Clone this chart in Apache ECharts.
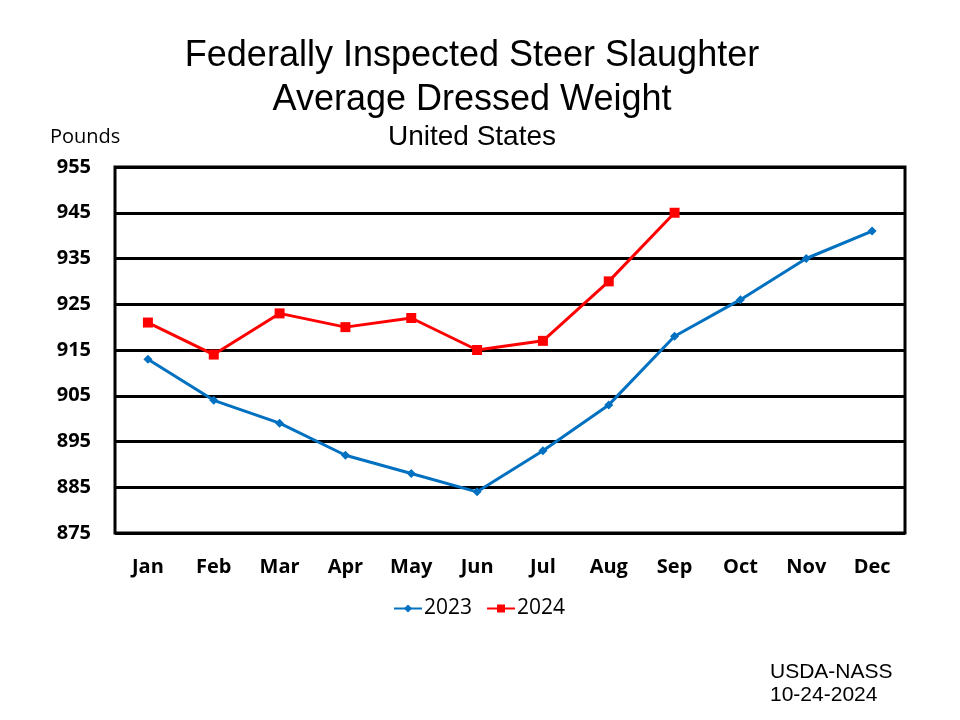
<!DOCTYPE html>
<html><head><meta charset="utf-8">
<script src="https://cdn.jsdelivr.net/npm/echarts@6/dist/echarts.min.js"></script>
<style>html,body{margin:0;padding:0;background:#fff}#c{width:960px;height:720px}</style>
</head><body><div id="c"></div>
<script>
const months = ['Jan','Feb','Mar','Apr','May','Jun','Jul','Aug','Sep','Oct','Nov','Dec'];
const s2023 = [913,904,899,892,888,884,893,903,918,926,935,941];
const s2024 = [921,914,923,920,922,915,917,930,945,null,null,null];
const yMin = 875, yMax = 955, yStep = 10;
const F = 'Liberation Sans, Arial, sans-serif';
const G = 'Open Sans, sans-serif';
const chart = echarts.init(document.getElementById('c'));
chart.setOption({
  animation:false,
  backgroundColor:'#fff',
  title:[
    {text:'Federally Inspected Steer Slaughter',left:472,textAlign:'center',top:38,padding:0,textStyle:{fontFamily:F,fontSize:36,fontWeight:'normal',color:'#000'}},
    {text:'Average Dressed Weight',left:472,textAlign:'center',top:82,padding:0,textStyle:{fontFamily:F,fontSize:36,fontWeight:'normal',color:'#000'}},
    {text:'United States',left:472,textAlign:'center',top:123,padding:0,textStyle:{fontFamily:F,fontSize:28,fontWeight:'normal',color:'#000'}},
    {text:'Pounds',left:50,top:127,padding:0,textStyle:{fontFamily:G,fontSize:20,fontWeight:'normal',color:'#000'}},
    {text:'USDA-NASS',left:770,top:662,padding:0,textStyle:{fontFamily:F,fontSize:21,fontWeight:'normal',color:'#000'}},
    {text:'10-24-2024',left:770,top:685,padding:0,textStyle:{fontFamily:F,fontSize:21,fontWeight:'normal',color:'#000'}}
  ],
  legend:{top:593,left:388,itemWidth:28,itemHeight:10,itemGap:14,
    textStyle:{fontFamily:G,fontSize:21,color:'#000',padding:[0,0,0,-3]},
    data:['2023','2024']},
  grid:{left:115,right:55,top:167,bottom:187,show:true,borderColor:'#000',borderWidth:3},
  xAxis:{type:'category',data:months,boundaryGap:true,
    axisLine:{show:false},axisTick:{show:false},
    axisLabel:{fontFamily:G,fontSize:20,fontWeight:'bold',color:'#000',margin:24}},
  yAxis:{type:'value',min:yMin,max:yMax,interval:yStep,
    axisLine:{show:false},axisTick:{show:false},
    axisLabel:{fontFamily:G,fontSize:20,fontWeight:'bold',color:'#000',margin:24,padding:[4,0,0,0]},
    splitLine:{lineStyle:{color:'#000',width:3}}},
  series:[
    {name:'2023',type:'line',data:s2023,symbol:'diamond',symbolSize:9,
     lineStyle:{color:'#0070C0',width:3},itemStyle:{color:'#0070C0'}},
    {name:'2024',type:'line',data:s2024,symbol:'rect',symbolSize:10,
     lineStyle:{color:'#FF0000',width:3},itemStyle:{color:'#FF0000'}}
  ]
});
</script></body></html>
